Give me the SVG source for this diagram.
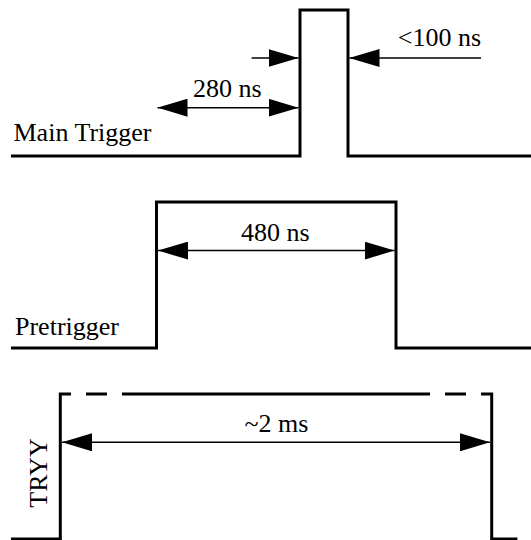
<svg xmlns="http://www.w3.org/2000/svg" width="531" height="540" viewBox="0 0 531 540">
<style>
.sig{fill:none;stroke:#000;stroke-width:3}
.dim{fill:none;stroke:#000;stroke-width:1.5}
text{font-family:'Liberation Serif','Times New Roman',Times,serif;font-size:26px;fill:#000}
</style>
<defs>
<marker id="ah" viewBox="0 0 30 18" refX="30" refY="9" markerWidth="30" markerHeight="18" markerUnits="userSpaceOnUse" orient="auto-start-reverse">
<path d="M0,0 L30,9 L0,18 z" fill="#000"/>
</marker>
</defs>
<rect width="531" height="540" fill="#fff"/>
<g id="main-trigger">
<polyline class="sig" points="11,156 300,156 300,10 348,10 348,156 531,156"/>
<text font-family="Liberation Serif, serif" x="13.5" y="140.5">Main Trigger</text>
<text font-family="Liberation Serif, serif" x="193" y="96.5">280 ns</text>
<text font-family="Liberation Serif, serif" x="481" y="45.7" text-anchor="end">&lt;100 ns</text>
</g>
<g id="pretrigger">
<polyline class="sig" points="11,348 156.5,348 156.5,202 396,202 396,348 531,348"/>
<text font-family="Liberation Serif, serif" x="15" y="335">Pretrigger</text>
<text font-family="Liberation Serif, serif" x="241" y="241">480 ns</text>
</g>
<g id="tryy">
<polyline class="sig" points="11,539 60.3,539 60.3,394 71,394"/>
<line class="sig" x1="86" y1="394" x2="107" y2="394"/>
<line class="sig" x1="122" y1="394" x2="430" y2="394"/>
<line class="sig" x1="445" y1="394" x2="466" y2="394"/>
<polyline class="sig" points="481,394 491.7,394 491.7,539 517.4,539"/>
<text font-family="Liberation Serif, serif" transform="translate(47.4,473) rotate(-90)" text-anchor="middle">TRYY</text>
<text font-family="Liberation Serif, serif" x="244.5" y="432">~2 ms</text>
</g>
<g id="connectors">
<line class="dim" x1="251.6" y1="58" x2="298.5" y2="58" marker-end="url(#ah)"/>
<line class="dim" x1="481" y1="58" x2="349.5" y2="58" marker-end="url(#ah)"/>
<line class="dim" x1="157.5" y1="107.7" x2="298.5" y2="107.7" marker-start="url(#ah)" marker-end="url(#ah)"/>
<line class="dim" x1="158" y1="250.6" x2="394.5" y2="250.6" marker-start="url(#ah)" marker-end="url(#ah)"/>
<line class="dim" x1="62" y1="442.3" x2="490" y2="442.3" marker-start="url(#ah)" marker-end="url(#ah)"/>
</g>
</svg>
